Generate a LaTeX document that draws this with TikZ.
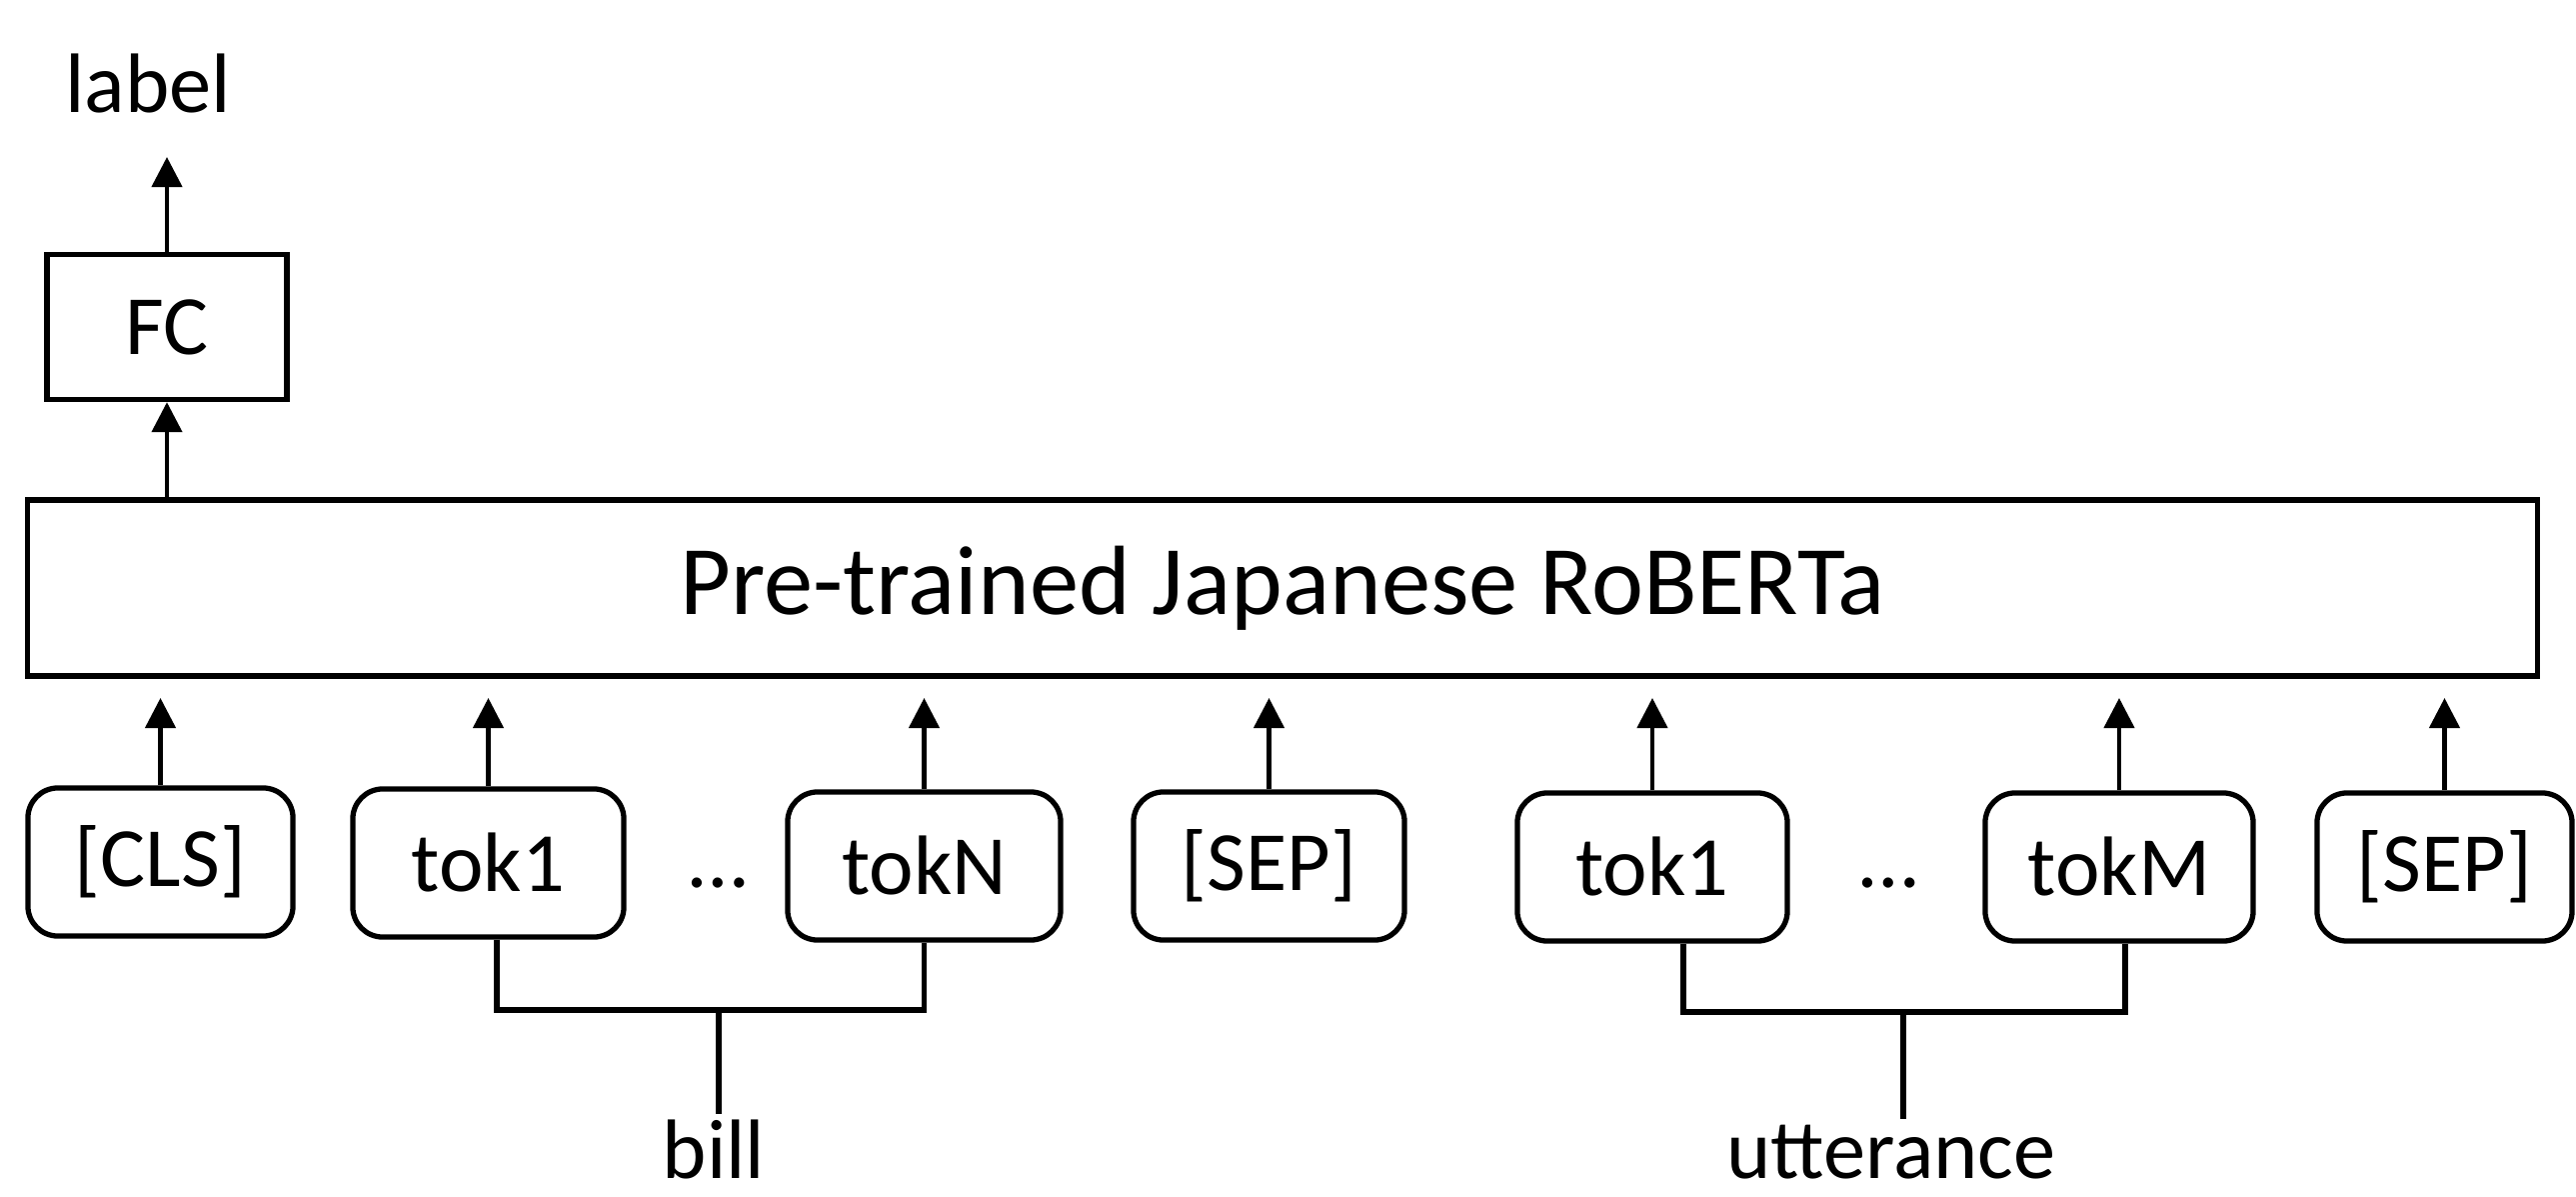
\documentclass[tikz,border=0pt]{standalone}
\usepackage{fontspec}
\setmainfont{Carlito}
\usetikzlibrary{arrows.meta}
\begin{document}
\begin{tikzpicture}[x=0.01cm,y=-0.01cm,
  box/.style={draw, line width=1.5pt, inner sep=0pt, font=\fontsize{24}{28}\selectfont},
  tokbox/.style={box, rounded corners=0.3cm, minimum height=1.48cm},
  arr/.style={line width=1.25pt, -{Triangle[length=0.3cm,width=0.3cm]}},
  brk/.style={line width=1.5pt},
  txt/.style={font=\fontsize{24}{28}\selectfont, inner sep=0pt}]
\useasboundingbox (0,0) rectangle (2577,1197);
% top part
\node[txt, anchor=base] (label) at (148,113) {label};
\node[box, minimum width=2.4cm, minimum height=1.45cm] (fc) at (167,327) {FC};
\node[box, minimum width=25.1cm, minimum height=1.76cm, font=\fontsize{28}{32}\selectfont] (rob) at (1283,588) {Pre-trained Japanese RoBERTa};
\coordinate (labtip) at (0,157);
\draw[arr] (fc.north) -- (fc.north |- labtip);
\draw[arr] (rob.north -| fc.south) -- (fc.south);
% tokens
\node[tokbox, minimum width=2.65cm] (cls) at (160.5,862) {[CLS]};
\node[tokbox, minimum width=2.71cm] (toka) at (488.5,863) {tok1};
\node[txt, anchor=base] (dotsa) at (719,887) {…};
\node[tokbox, minimum width=2.73cm] (tokn) at (924.5,866) {tokN};
\node[tokbox, minimum width=2.71cm] (sepa) at (1269.5,866) {[SEP]};
\node[tokbox, minimum width=2.70cm] (tokb) at (1653,867) {tok1};
\node[txt, anchor=base] (dotsb) at (1890,887) {…};
\node[tokbox, minimum width=2.68cm] (tokm) at (2120,867) {tokM};
\node[tokbox, minimum width=2.55cm] (sepb) at (2445.5,867) {[SEP]};
% input arrows
\coordinate (tipline) at (0,698);
\foreach \n in {cls,toka,tokn,sepa,tokb,tokm,sepb}
  \draw[arr] (\n.north) -- (\n.north |- tipline);
% bill bracket
\node[txt, anchor=base] (bill) at (714,1178) {bill};
\coordinate (billj) at (719,1010);
\draw[brk] ([xshift=0.085cm]toka.south) |- (tokn.south |- billj) -- (tokn.south);
\draw[brk] (billj) -- ([yshift=0.05cm]bill.north -| billj);
% utterance bracket
\node[txt, anchor=base] (utt) at (1892,1178) {utterance};
\coordinate (uttj) at (1904,1012);
\draw[brk] ([xshift=0.31cm]tokb.south) |- ([xshift=0.06cm]tokm.south |- uttj) -- ([xshift=0.06cm]tokm.south);
\draw[brk] (uttj) -- ([yshift=0.05cm]utt.north -| uttj);
\end{tikzpicture}
\end{document}
